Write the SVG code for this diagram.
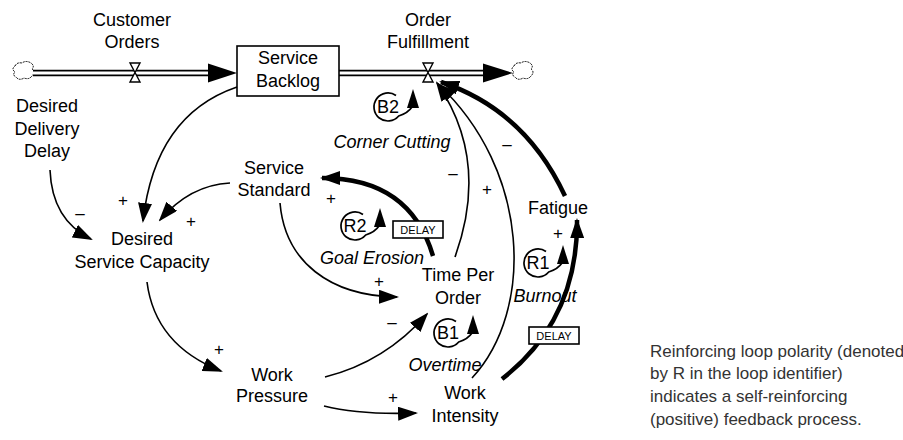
<svg xmlns="http://www.w3.org/2000/svg" width="903" height="440" viewBox="0 0 903 440">
<style>
text{font-family:"Liberation Sans",Arial,sans-serif;fill:#000}
.lbl{font-size:18px;text-anchor:middle}
.it{font-size:18px;font-style:italic;text-anchor:middle}
.sg{font-size:17px;text-anchor:middle}
.dl{font-size:11px;text-anchor:middle}
.side{font-size:17px;fill:#333}
.thin{fill:none;stroke:#000;stroke-width:1.6}
.thick{fill:none;stroke:#000;stroke-width:4.5}
.loop{fill:none;stroke:#000;stroke-width:1.7}
.pipeo{stroke:#000;stroke-width:6.5;fill:none}
.pipei{stroke:#fff;stroke-width:3;fill:none}
.valve{fill:#fff;stroke:#000;stroke-width:1.4}
.cloud{fill:#fff;stroke:#000;stroke-width:1;stroke-dasharray:2 1}
.box{fill:#fff;stroke:#000;stroke-width:1.6}
</style>
<defs>
<marker id="ah" markerWidth="20" markerHeight="14" refX="18" refY="7" orient="auto" markerUnits="userSpaceOnUse"><path d="M0,0 L20,7 L0,14 z" fill="#000"/></marker>
<g id="loopicon">
<path class="loop" d="M8,-11.5 A14,14 0 1 0 10.7,9 Q20,6 24,0"/>
<path d="M19,1 L31,1 L25,-18 z" fill="#000"/>
</g>
</defs>

<g id="flows">
<path class="cloud" d="M15,66 q2,-4 7,-3 q4,-3 9,0 q4,3 1,6 q4,3 0,7 q-3,4 -8,2 q-5,3 -8,-1 q-4,-2 -1,-5 q-4,-3 0,-6 z"/>
<path class="pipeo" d="M33,73 H212"/>
<path class="pipei" d="M33,73 H212"/>
<path d="M208,63.5 L237,73 L208,82.5 z" fill="#000"/>
<path class="pipeo" d="M339,73 H486"/>
<path class="pipei" d="M339,73 H486"/>
<path d="M483,63.5 L513,73 L483,82.5 z" fill="#000"/>
<path class="cloud" d="M514,66 q2,-4 7,-3 q4,-3 9,0 q4,3 1,6 q4,3 0,7 q-3,4 -8,2 q-5,3 -8,-1 q-4,-2 -1,-5 q-4,-3 0,-6 z"/>
</g>

<g id="customer-orders">
<path class="valve" d="M130,63 L140,63 L135,72.5 z M135,72.5 L140,82 L130,82 z"/>
<text class="lbl" x="132" y="26">Customer</text>
<text class="lbl" x="132" y="48">Orders</text>
</g>

<g id="order-fulfillment">
<path class="valve" d="M423,63 L433,63 L428,72.5 z M428,72.5 L433,82 L423,82 z"/>
<text class="lbl" x="428" y="26">Order</text>
<text class="lbl" x="428" y="48">Fulfillment</text>
</g>

<g id="service-backlog">
<rect class="box" x="237" y="46" width="102" height="50"/>
<text class="lbl" x="288" y="64">Service</text>
<text class="lbl" x="288" y="87">Backlog</text>
</g>

<g id="desired-delivery-delay">
<text class="lbl" x="47" y="112">Desired</text>
<text class="lbl" x="47" y="135">Delivery</text>
<text class="lbl" x="47" y="157">Delay</text>
</g>

<g id="desired-service-capacity">
<text class="lbl" x="142" y="245">Desired</text>
<text class="lbl" x="142" y="268">Service Capacity</text>
</g>

<g id="service-standard">
<text class="lbl" x="274" y="174">Service</text>
<text class="lbl" x="274" y="196">Standard</text>
</g>

<g id="time-per-order">
<text class="lbl" x="458" y="281">Time Per</text>
<text class="lbl" x="458" y="304">Order</text>
</g>

<g id="fatigue">
<text class="lbl" x="558" y="214">Fatigue</text>
</g>

<g id="work-pressure">
<text class="lbl" x="272" y="381">Work</text>
<text class="lbl" x="272" y="402">Pressure</text>
</g>

<g id="work-intensity">
<text class="lbl" x="465" y="399">Work</text>
<text class="lbl" x="465" y="422">Intensity</text>
</g>

<g id="connectors">
<path class="thin" marker-end="url(#ah)" d="M237,87 Q155,115 143,221"/>
<path class="thin" marker-end="url(#ah)" d="M50,170 Q52,220 91,239"/>
<path class="thin" marker-end="url(#ah)" d="M230,183 Q190,185 160,220"/>
<path class="thick" marker-end="url(#ah)" d="M433,256 Q410,178 322,178"/>
<path class="thin" marker-end="url(#ah)" d="M280,203 C285,262 330,296 397,297"/>
<path class="thin" marker-end="url(#ah)" d="M147,282 Q155,345 221,371"/>
<path class="thin" marker-end="url(#ah)" d="M325,377 Q385,362 427,314"/>
<path class="thin" marker-end="url(#ah)" d="M324,406 Q360,415 416,413"/>
<path class="thick" marker-end="url(#ah)" d="M502,379 Q578,320 577,220"/>
<path class="thin" marker-end="url(#ah)" d="M455,257 Q490,160 437,83"/>
<path class="thin" marker-end="url(#ah)" d="M472,378 C535,310 530,170 438,84"/>
<path class="thick" marker-end="url(#ah)" d="M565,196 Q525,110 441,82"/>
</g>

<g id="delays">
<rect class="box" x="393" y="221" width="50" height="17"/>
<text class="dl" x="418" y="234">DELAY</text>
<rect class="box" x="529" y="327" width="50" height="17"/>
<text class="dl" x="554" y="340">DELAY</text>
</g>

<g id="polarities">
<text class="sg" x="123" y="206">+</text>
<text class="sg" x="80" y="219">–</text>
<text class="sg" x="191" y="227">+</text>
<text class="sg" x="331" y="204">+</text>
<text class="sg" x="379" y="287">+</text>
<text class="sg" x="453" y="179">–</text>
<text class="sg" x="487" y="195">+</text>
<text class="sg" x="507" y="150">–</text>
<text class="sg" x="558" y="239">+</text>
<text class="sg" x="219" y="355">+</text>
<text class="sg" x="392" y="328">–</text>
<text class="sg" x="393" y="403">+</text>
</g>

<g id="loop-b2">
<use href="#loopicon" x="388" y="107"/>
<text class="lbl" x="388" y="113">B2</text>
<text class="it" x="392" y="148">Corner Cutting</text>
</g>
<g id="loop-r2">
<use href="#loopicon" x="355" y="226"/>
<text class="lbl" x="355" y="232">R2</text>
<text class="it" x="372" y="264">Goal Erosion</text>
</g>
<g id="loop-r1">
<use href="#loopicon" x="538" y="263"/>
<text class="lbl" x="538" y="269">R1</text>
<text class="it" x="545" y="302">Burnout</text>
</g>
<g id="loop-b1">
<use href="#loopicon" x="448" y="333"/>
<text class="lbl" x="448" y="339">B1</text>
<text class="it" x="445" y="371">Overtime</text>
</g>

<g id="note">
<text class="side" x="650" y="357">Reinforcing loop polarity (denoted</text>
<text class="side" x="650" y="379">by R in the loop identifier)</text>
<text class="side" x="650" y="402">indicates a self-reinforcing</text>
<text class="side" x="650" y="425">(positive) feedback process.</text>
</g>
</svg>
